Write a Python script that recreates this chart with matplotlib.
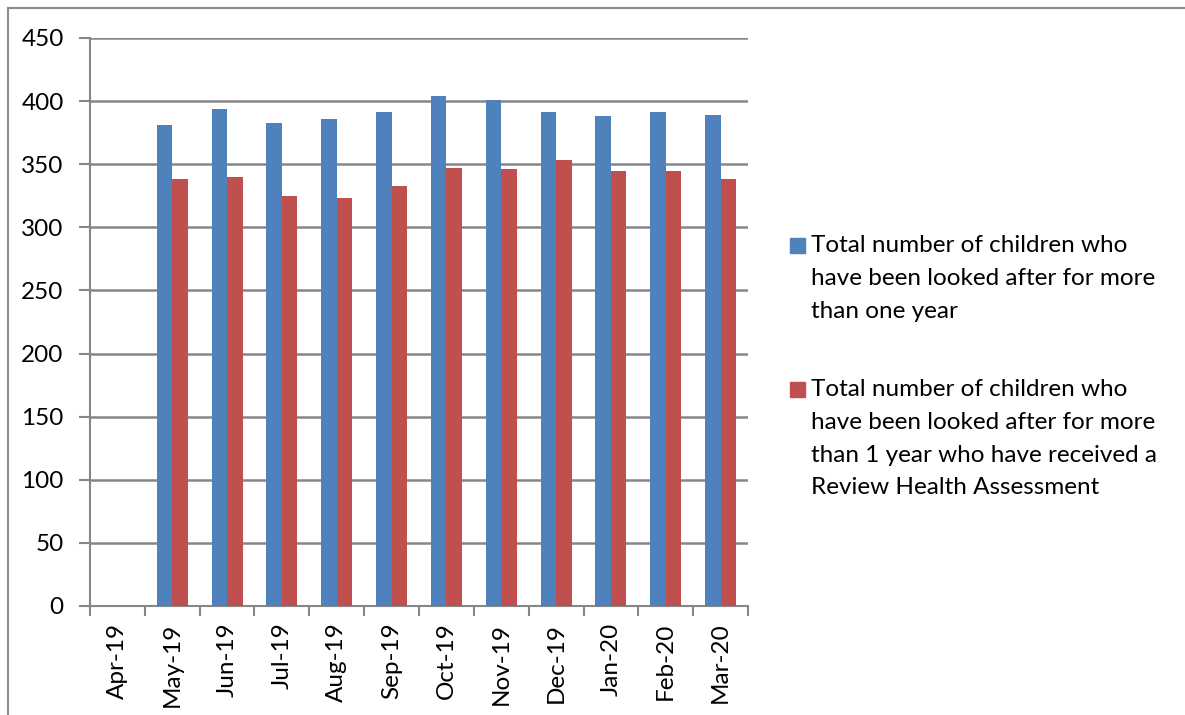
import numpy as np
import matplotlib
matplotlib.use("Agg")
import matplotlib.pyplot as plt
from matplotlib.lines import Line2D
from matplotlib.patches import Rectangle

plt.rcParams['font.family'] = ['Lato', 'DejaVu Sans']

months = ["Apr-19", "May-19", "Jun-19", "Jul-19", "Aug-19", "Sep-19",
          "Oct-19", "Nov-19", "Dec-19", "Jan-20", "Feb-20", "Mar-20"]
total_lac = [np.nan, 381, 394, 383, 386, 391, 404, 401, 391, 388, 391, 389]
total_rha = [np.nan, 338, 340, 325, 323, 333, 347, 346, 353, 345, 345, 338]
series_labels = [
    "Total number of children who\nhave been looked after for more\nthan one year",
    "Total number of children who\nhave been looked after for more\nthan 1 year who have received a\nReview Health Assessment",
]
yticks = [0, 50, 100, 150, 200, 250, 300, 350, 400, 450]

blue = "#4F81BD"
red = "#C0504D"
grid_c = "#868686"
FS = 17.5

W, H = 1185, 715
fig = plt.figure(figsize=(W / 100, H / 100), dpi=100)
ax = fig.add_axes([90 / W, 1 - 606 / H, (748 - 90) / W, (606 - 38) / H])

x = np.arange(len(months))
bw = 0.283
ax.bar(x - bw / 2, total_lac, width=bw, color=blue, zorder=3, label=series_labels[0])
ax.bar(x + bw / 2, total_rha, width=bw, color=red, zorder=3, label=series_labels[1])

ax.set_xlim(-0.5, len(months) - 0.5)
ax.set_ylim(0, 450)
ax.set_yticks(yticks)
ax.set_yticklabels([str(v) for v in yticks])
ax.yaxis.grid(True, color=grid_c, linewidth=1.8, zorder=0)
ax.set_axisbelow(True)

ax.set_xticks(x)
ax.set_xticklabels(months, rotation=90)
ax.set_xticks(np.arange(-0.5, len(months), 1.0), minor=True)
ax.tick_params(axis='x', which='major', length=0, pad=12, labelsize=FS, colors='black')
ax.tick_params(axis='x', which='minor', length=7, width=1.5, color=grid_c)
ax.tick_params(axis='y', length=8, width=1.5, color=grid_c, pad=11, labelsize=FS)

for s in ['top', 'right']:
    ax.spines[s].set_visible(False)
for s in ['left', 'bottom']:
    ax.spines[s].set_color(grid_c)
    ax.spines[s].set_linewidth(1.5)

# legend drawn as figure artists
colors = [blue, red]
marker_tops = [238, 382]      # px from top
line_step = 32.5              # px between baselines
for lab, col, mt in zip(series_labels, colors, marker_tops):
    fig.add_artist(Rectangle((790 / W, 1 - (mt + 14.5) / H), 14.5 / W, 14.5 / H,
                             transform=fig.transFigure, color=col))
    first_baseline = mt + 14.5
    for i, line in enumerate(lab.split("\n")):
        fig.text(811 / W, 1 - (first_baseline + i * line_step) / H, line,
                 fontsize=FS, va='baseline', ha='left', color='black')

# outer chart border (left and top visible)
fig.add_artist(Line2D([8 / W, 8 / W], [0, 1 - 8 / H], transform=fig.transFigure,
                      color="#8c8c8c", linewidth=1.5))
fig.add_artist(Line2D([8 / W, 1], [1 - 8 / H, 1 - 8 / H], transform=fig.transFigure,
                      color="#8c8c8c", linewidth=1.5))

fig.savefig("out.png", dpi=100)
